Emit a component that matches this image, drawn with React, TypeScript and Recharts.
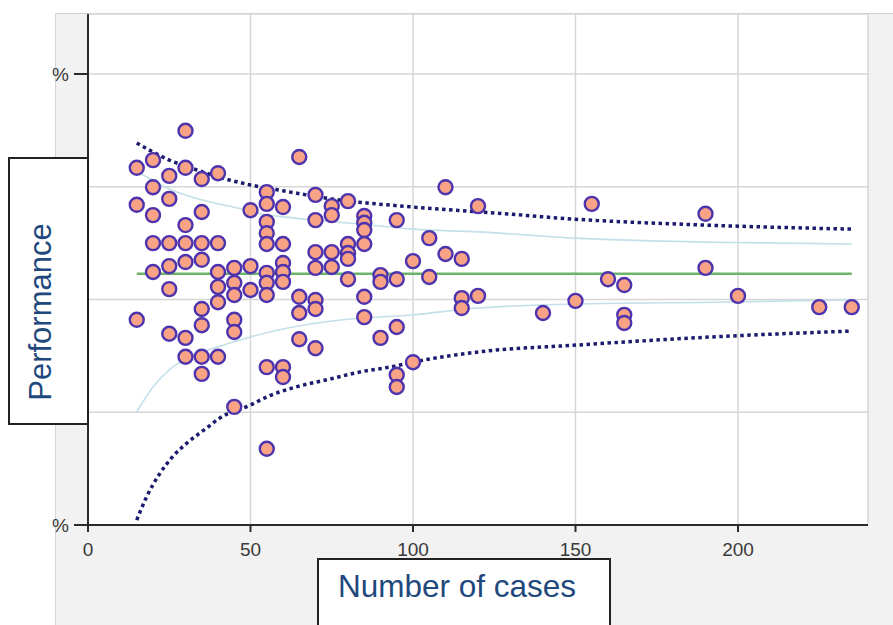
import { ScatterChart, Scatter, XAxis, YAxis, CartesianGrid } from "recharts"

// number of cases per unit, and the performance (%) of each unit with that count
const cases = [15, 20, 25, 30, 35, 40, 45, 50, 55, 60, 65, 70, 75, 80, 85, 90, 95, 100, 105, 110, 115, 120, 140, 150, 155, 160, 165, 190, 200, 225, 235]
const scoresByCases = [
  [79.2, 71.0, 45.5],
  [80.9, 74.9, 68.7, 62.5, 56.1],
  [77.4, 72.3, 62.5, 57.4, 52.3, 42.4],
  [87.4, 79.2, 66.5, 62.5, 58.3, 41.5, 37.3],
  [76.7, 69.4, 62.5, 58.8, 47.9, 44.3, 37.3, 33.5],
  [78.0, 62.5, 56.1, 52.8, 49.4, 37.3],
  [57.0, 53.7, 51.0, 45.5, 42.8, 26.2],
  [69.8, 57.4, 52.1],
  [73.8, 71.2, 67.2, 64.7, 62.3, 55.9, 53.7, 51.0, 35.0, 16.9],
  [70.5, 62.3, 58.1, 56.1, 53.9, 35.0, 32.8],
  [81.6, 50.6, 47.0, 41.2],
  [73.2, 67.6, 60.5, 57.0, 49.9, 47.9, 39.2],
  [70.7, 68.7, 60.5, 57.2],
  [71.8, 62.3, 60.3, 59.0, 54.5],
  [68.5, 67.0, 65.4, 62.3, 50.6, 46.1],
  [55.4, 53.9, 41.5],
  [67.6, 54.5, 43.9, 33.3, 30.6],
  [58.5, 36.1],
  [63.6, 55.0],
  [74.9, 60.1],
  [59.0, 50.3, 48.1],
  [70.7, 50.8],
  [47.0],
  [49.7],
  [71.2],
  [54.5],
  [53.2, 46.6, 44.8],
  [69.0, 57.0],
  [50.8],
  [48.3],
  [48.3],
]

// overall average
const meanCases = [15, 235]
const meanScores = [55.7, 55.7]

// inner (light blue) limits
const innerUpperCases = [15, 18, 25, 35, 47, 53, 63, 84, 100, 120, 150, 192, 235]
const innerUpperScores = [78.3, 77.2, 74.5, 72.1, 70.1, 69.0, 68.1, 66.7, 65.6, 65.0, 63.6, 62.7, 62.3]
const innerLowerCases = [15, 20, 25, 30.5, 40, 50, 63, 78.5, 100, 120, 150, 192, 235]
const innerLowerScores = [25.1, 30.6, 34.4, 37.0, 39.5, 41.7, 43.9, 45.5, 46.6, 48.1, 49.0, 49.4, 49.9]

// outer (dotted) limits
const outerUpperCases = [15, 20, 25, 30, 40, 50, 60, 75, 100, 125, 150, 190, 235]
const outerUpperScores = [84.7, 82.7, 80.9, 79.6, 77.2, 75.4, 74.1, 72.3, 70.5, 69.2, 67.8, 66.5, 65.6]
const outerLowerCases = [15, 18, 22, 26, 30.5, 36.5, 40.5, 50, 55, 63, 73.5, 83.5, 95, 100, 120.5, 150.5, 192, 235]
const outerLowerScores = [1.1, 6.2, 11.3, 15.1, 18.2, 21.5, 23.7, 26.6, 28.4, 30.4, 32.2, 33.9, 35.3, 36.1, 38.4, 39.9, 41.7, 43.0]

const xTicks = [0, 50, 100, 150, 200]
const yTicks = [0, 25, 50, 75, 100]
const yLabelled = [0, 100]

const toSeries = (xs: number[], ys: number[]) => xs.map((n, i) => ({ n, v: ys[i] }))

const points = cases.flatMap((n, i) => scoresByCases[i].map((v) => ({ n, v })))

const FONT = "'Liberation Sans', Arial, sans-serif"
const TEXT_BLUE = "#1f497d"

const noDot = () => <g />

const Dot = (p: any) => (
  <circle cx={p.cx} cy={p.cy} r={7} fill="#f8a385" stroke="#4d33ae" strokeWidth={2.4} />
)

const YTick = (p: any) => {
  if (!yLabelled.includes(p.payload.value)) return <g />
  return (
    <g>
      <line x1={p.x} x2={p.x + 14} y1={p.y} y2={p.y} stroke="#2b2b2b" strokeWidth={2} />
      <text x={p.x - 5} y={p.y + 7} textAnchor="end" fontSize={19} fill="#3a3a3a" fontFamily={FONT}>
        %
      </text>
    </g>
  )
}

export default function App() {
  return (
    <div style={{ position: "absolute", left: 0, top: 0, width: 893, height: 625, overflow: "hidden", background: "#fff" }}>
      {/* grey chart panel */}
      <div
        style={{
          position: "absolute",
          left: 55,
          top: 13,
          width: 838,
          height: 612,
          background: "#f2f2f2",
          borderTop: "1px solid #cfcfcf",
          borderLeft: "1px solid #d6d6d6",
          boxSizing: "border-box",
        }}
      />
      <div style={{ position: "absolute", left: 0, top: 0 }}>
        <ScatterChart width={893} height={625} margin={{ top: 14, right: 25, bottom: 70, left: 28 }}>
          <CartesianGrid stroke="#d6d6d6" strokeWidth={1.5} fill="#ffffff" />
          <XAxis
            type="number"
            dataKey="n"
            domain={[0, 240]}
            ticks={xTicks}
            height={30}
            axisLine={{ stroke: "#2b2b2b", strokeWidth: 2 }}
            tickLine={{ stroke: "#2b2b2b", strokeWidth: 2 }}
            tickSize={7}
            tickMargin={11}
            tick={{ fontSize: 19, fill: "#3a3a3a", fontFamily: FONT }}
          />
          <YAxis
            type="number"
            dataKey="v"
            domain={[0, 113.3]}
            ticks={yTicks}
            width={60}
            axisLine={{ stroke: "#2b2b2b", strokeWidth: 2 }}
            tickLine={false}
            tickSize={14}
            tickMargin={0}
            tick={<YTick />}
          />
          <Scatter
            data={toSeries(meanCases, meanScores)}
            shape={noDot}
            line={{ stroke: "#6db36a", strokeWidth: 2.5 }}
            isAnimationActive={false}
          />
          <Scatter
            data={toSeries(innerUpperCases, innerUpperScores)}
            shape={noDot}
            line={{ stroke: "#c3dfe8", strokeWidth: 1.6 }}
            lineJointType="monotoneX"
            isAnimationActive={false}
          />
          <Scatter
            data={toSeries(innerLowerCases, innerLowerScores)}
            shape={noDot}
            line={{ stroke: "#c3dfe8", strokeWidth: 1.6 }}
            lineJointType="monotoneX"
            isAnimationActive={false}
          />
          <Scatter
            data={toSeries(outerUpperCases, outerUpperScores)}
            shape={noDot}
            line={{ stroke: "#1b1b6e", strokeWidth: 3.5, strokeDasharray: "3.5 3.5" }}
            lineJointType="monotoneX"
            isAnimationActive={false}
          />
          <Scatter
            data={toSeries(outerLowerCases, outerLowerScores)}
            shape={noDot}
            line={{ stroke: "#1b1b6e", strokeWidth: 3.5, strokeDasharray: "3.5 3.5" }}
            lineJointType="monotoneX"
            isAnimationActive={false}
          />
          <Scatter data={points} shape={Dot} isAnimationActive={false} />
        </ScatterChart>
      </div>

      {/* y axis title box */}
      <div
        style={{
          position: "absolute",
          left: 8,
          top: 157,
          width: 81,
          height: 268,
          border: "2px solid #222",
          background: "#fff",
          boxSizing: "border-box",
        }}
      >
        <span
          style={{
            position: "absolute",
            left: 30,
            top: 153,
            transform: "translate(-50%, -50%) rotate(-90deg)",
            whiteSpace: "nowrap",
            fontFamily: FONT,
            fontSize: 31,
            lineHeight: 1,
            color: TEXT_BLUE,
          }}
        >
          Performance
        </span>
      </div>

      {/* x axis title box */}
      <div
        style={{
          position: "absolute",
          left: 317,
          top: 558,
          width: 294,
          height: 90,
          border: "2px solid #222",
          background: "#fff",
          boxSizing: "border-box",
        }}
      >
        <span
          style={{
            position: "absolute",
            left: 19,
            top: 11,
            whiteSpace: "nowrap",
            fontFamily: FONT,
            fontSize: 31.5,
            lineHeight: 1,
            color: TEXT_BLUE,
          }}
        >
          Number of cases
        </span>
      </div>
    </div>
  )
}
